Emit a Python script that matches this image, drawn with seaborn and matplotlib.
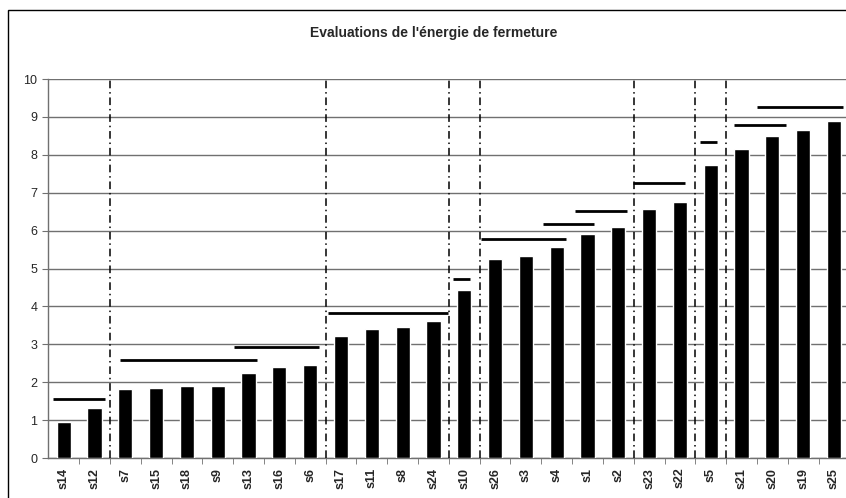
import numpy as np
import pandas as pd
import seaborn as sns
import matplotlib.pyplot as plt
from matplotlib.patches import Rectangle
from matplotlib.ticker import FixedLocator

# Datos
sujetos = ['s14', 's12', 's7', 's15', 's18', 's9', 's13', 's16', 's6',
           's17', 's11', 's8', 's24', 's10', 's26', 's3', 's4', 's1', 's2',
           's23', 's22', 's5', 's21', 's20', 's19', 's25']
energie = [0.96, 1.31, 1.81, 1.84, 1.90, 1.90, 2.25, 2.39, 2.45,
           3.21, 3.40, 3.46, 3.62, 4.43, 5.25, 5.34, 5.57, 5.92, 6.10,
           6.57, 6.75, 7.73, 8.16, 8.50, 8.66, 8.89]

# Separations entre groupes (entre deux sujets)
separations = [1.5, 8.5, 12.5, 13.5, 18.5, 20.5, 21.5]

# Segments horizontaux: debut, fin, niveau
seg_debut = [-0.35, 1.83, 5.53, 8.58, 12.65, 13.53, 15.55, 16.60, 18.49, 20.65, 21.76, 22.50]
seg_fin = [1.34, 6.27, 8.28, 12.47, 13.19, 16.30, 17.21, 18.27, 20.17, 21.21, 23.44, 25.29]
seg_niveau = [1.55, 2.59, 2.92, 3.82, 4.72, 5.78, 6.17, 6.53, 7.26, 8.35, 8.79, 9.25]

df = pd.DataFrame({'sujet': sujetos, 'energie': energie})

sns.set_style("white")
plt.rcParams['font.family'] = ['Liberation Sans', 'DejaVu Sans']

fig = plt.figure(figsize=(8.46, 4.98), dpi=100)
ax = fig.add_axes([48.3 / 846, 40 / 498, 801.1 / 846, 379 / 498])

sns.barplot(data=df, x='sujet', y='energie', color='black', width=0.46,
            saturation=1, ax=ax, zorder=3)

# grille horizontale
ax.set_ylim(0, 10)
ax.set_xlim(-0.5, len(sujetos) - 0.5)
ax.set_yticks(range(0, 11))
ax.yaxis.grid(True, color='#707070', linewidth=1, zorder=0)
ax.set_axisbelow(True)

# lignes de separation
for s in separations:
    ax.plot([s, s], [0, 10], color='black', linewidth=1.1,
            linestyle=(0, (5, 2.5, 1, 2.5)), zorder=4)

# segments
for d, f, n in zip(seg_debut, seg_fin, seg_niveau):
    ax.plot([d, f], [n, n], color='black', linewidth=2, solid_capstyle='butt', zorder=4)

# axes
for side in ['top', 'right']:
    ax.spines[side].set_visible(False)
for side in ['left', 'bottom']:
    ax.spines[side].set_color('#707070')
    ax.spines[side].set_linewidth(1)

ax.tick_params(axis='y', which='major', left=True, length=4, color='#707070',
               labelsize=9, pad=4)
ax.tick_params(axis='x', which='major', length=0, labelsize=9, pad=7)
ax.xaxis.set_minor_locator(FixedLocator(np.arange(0.5, len(sujetos) - 1, 1)))
ax.tick_params(axis='x', which='minor', bottom=True, length=4, color='#707070')
for lab in ax.get_xticklabels():
    lab.set_rotation(90)
    lab.set_fontweight('bold')

ax.set_xlabel('')
ax.set_ylabel('')

fig.text(434 / 846, 1 - 33 / 498, "Evaluations de l'énergie de fermeture",
         ha='center', va='center', fontsize=10, fontweight='bold')

# cadre exterieur
fig.patches.append(Rectangle((8 / 846, -0.1), 1.0, 1 - 10.5 / 498 + 0.1,
                             transform=fig.transFigure, fill=False,
                             edgecolor='black', linewidth=1))

fig.savefig('out.png', dpi=100)
